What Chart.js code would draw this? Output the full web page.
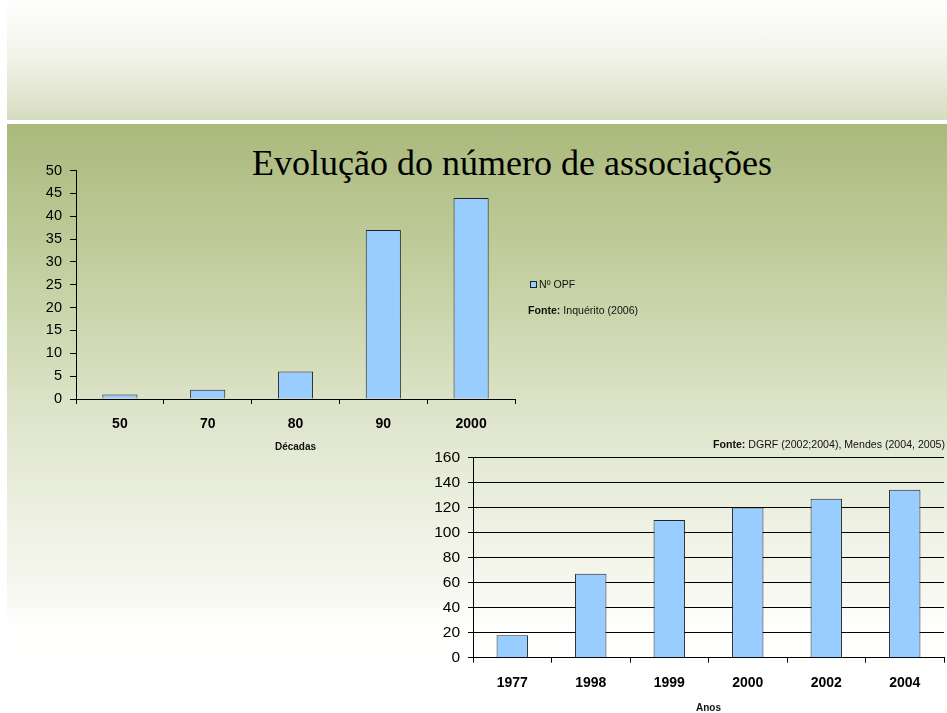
<!DOCTYPE html>
<html>
<head>
<meta charset="utf-8">
<script src="https://cdn.jsdelivr.net/npm/chart.js@4"></script>
<style>
  html, body { margin: 0; padding: 0; background: #fff; }
  #page { position: relative; width: 947px; height: 713px; overflow: hidden; background: #fff; font-family: "Liberation Sans", Arial, sans-serif; }
  #bgTop { position: absolute; left: 7px; top: 0; width: 940px; height: 120px; background: linear-gradient(#fefefd 0%, #f2f4ea 45%, #d6dcbf 100%); }
  #bgBottom { position: absolute; left: 7px; top: 124px; width: 940px; height: 589px; background: linear-gradient(#aab97c 0%, #c3cfa0 25%, #dfe5cc 50%, #eef1e3 68%, #f7f8f1 80%, #fefefd 85%, #ffffff 100%); }
  #title { position: absolute; left: 0; width: 1024px; top: 142px; text-align: center; font-family: "Liberation Serif", "Times New Roman", serif; font-size: 36px; color: #000; white-space: nowrap; }
  canvas { position: absolute; }
  .note { position: absolute; font-size: 10.6px; color: #111; white-space: nowrap; }
  #legBox { position: absolute; left: 530px; top: 281px; width: 7px; height: 7px; box-sizing: border-box; border: 1px solid #222; background: #99ccff; }
</style>
</head>
<body>
<div id="page">
  <div id="bgTop"></div>
  <div id="bgBottom"></div>
  <div id="title">Evolução do número de associações</div>
  <canvas id="c1" width="530" height="320" style="left:0px; top:140px;"></canvas>
  <canvas id="c2" width="547" height="275" style="left:400px; top:440px;"></canvas>
  <div id="legBox"></div>
  <div class="note" style="left:539px; top:278px;">Nº OPF</div>
  <div class="note" style="left:528px; top:304px;"><b>Fonte:</b> Inquérito (2006)</div>
  <div class="note" style="left:713px; top:438px;"><b>Fonte:</b> DGRF (2002;2004), Mendes (2004, 2005)</div>
</div>
<script>
// ---- Data ----
const decadas = ["50", "70", "80", "90", "2000"];
const nOPF = [1, 2, 6, 37, 44];
const anos = ["1977", "1998", "1999", "2000", "2002", "2004"];
const nAssoc = [18, 67, 110, 120, 127, 134];
const seriesName = "Nº OPF";
const xTitle1 = "Décadas";
const xTitle2 = "Anos";

const BAR_FILL = "#99ccff";
const BAR_BORDER = "#222222";
const FONT = "'Liberation Sans', Arial, sans-serif";

function barChart(canvasId, labels, values, cfg) {
  return new Chart(document.getElementById(canvasId), {
    type: "bar",
    data: {
      labels: labels,
      datasets: [{
        label: seriesName,
        data: values,
        backgroundColor: BAR_FILL,
        borderColor: BAR_BORDER,
        borderWidth: 1,
        borderSkipped: "bottom",
        categoryPercentage: 1.0,
        barPercentage: 0.4
      }]
    },
    options: {
      responsive: false,
      animation: false,
      devicePixelRatio: 1,
      layout: { padding: cfg.padding },
      plugins: { legend: { display: false }, tooltip: { enabled: false }, title: { display: false } },
      scales: {
        x: {
          offset: true,
          grid: { offset: true, drawOnChartArea: false, drawTicks: true, tickLength: 5, color: "#000", lineWidth: 1 },
          border: { display: true, color: "#000", width: 1 },
          ticks: { color: "#000", padding: 12, font: { family: FONT, size: 14, weight: "bold" }, maxRotation: 0 },
          title: { display: true, text: cfg.xTitle, color: "#111", font: { family: FONT, size: 10, weight: "bold" }, padding: { top: 0, bottom: cfg.titlePad } },
          afterFit: (s) => { s.height = cfg.xHeight; }
        },
        y: {
          min: 0, max: cfg.max,
          grid: { drawOnChartArea: cfg.gridOn, drawTicks: true, tickLength: cfg.yTick, color: "#000", lineWidth: 1 },
          border: { display: true, color: "#000", width: 1 },
          ticks: { stepSize: cfg.step, color: "#000", padding: 8, font: { family: FONT, size: cfg.yFont } },
          afterFit: (s) => { s.width = cfg.yWidth; }
        }
      }
    }
  });
}

barChart("c1", decadas, nOPF, {
  padding: { left: 0, top: 30.5, right: 15, bottom: 0 },
  xTitle: xTitle1, titlePad: 7, xHeight: 61, max: 50, step: 5,
  gridOn: false, yTick: 6, yFont: 14.5, yWidth: 76
});

barChart("c2", anos, nAssoc, {
  padding: { left: 0, top: 16.7, right: 3, bottom: 0 },
  xTitle: xTitle2, titlePad: 1, xHeight: 57.3, max: 160, step: 20,
  gridOn: true, yTick: 5, yFont: 15.5, yWidth: 73
});
</script>
</body>
</html>
